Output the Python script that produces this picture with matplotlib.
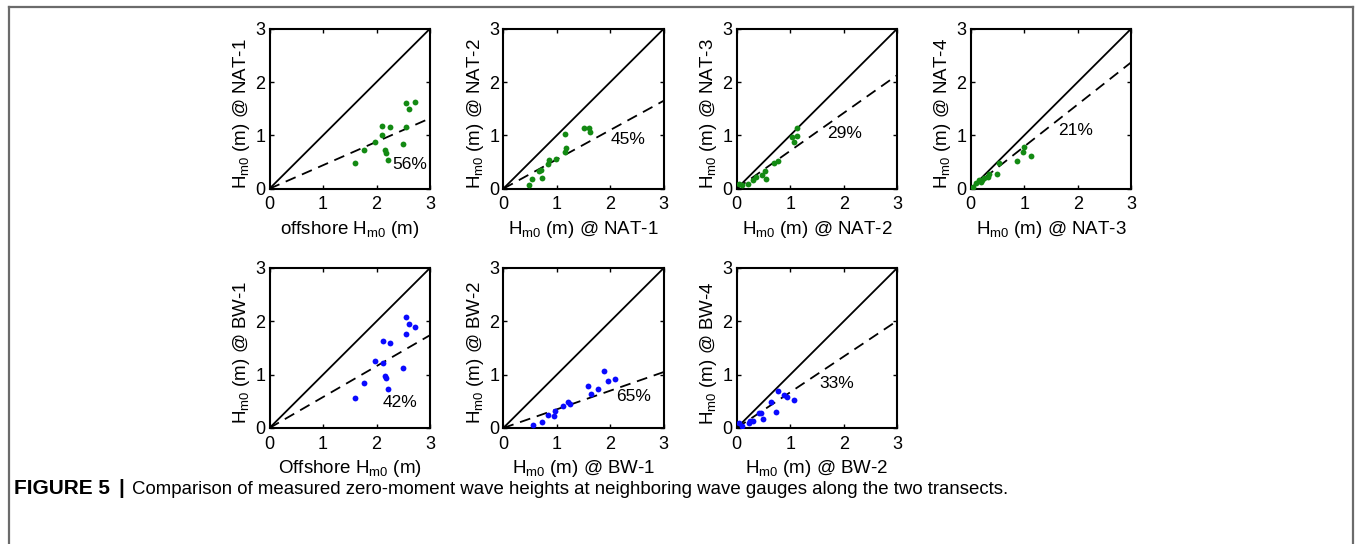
import matplotlib
matplotlib.use("Agg")
import matplotlib.pyplot as plt
from matplotlib.lines import Line2D
import numpy as np

plt.rcParams['font.family'] = ['Liberation Sans', 'DejaVu Sans']
plt.rcParams['mathtext.fontset'] = 'custom'
plt.rcParams['mathtext.rm'] = 'Liberation Sans'

# ---- measured wave heights (m) ----
nat1_x = [1.59, 1.77, 1.97, 2.11, 2.11, 2.26, 2.15, 2.17, 2.21, 2.50, 2.55, 2.61, 2.72, 2.55]
nat1_y = [0.49, 0.72, 0.87, 1.18, 1.01, 1.16, 0.72, 0.67, 0.54, 0.84, 1.61, 1.50, 1.62, 1.15]

nat2_x = [0.48, 0.54, 0.67, 0.71, 0.73, 0.84, 0.86, 0.98, 1.16, 1.16, 1.18, 1.50, 1.60, 1.62]
nat2_y = [0.07, 0.18, 0.33, 0.35, 0.21, 0.47, 0.53, 0.55, 1.03, 0.68, 0.76, 1.14, 1.13, 1.06]

nat3_x = [0.05, 0.10, 0.21, 0.31, 0.36, 0.47, 0.53, 0.55, 0.69, 0.78, 1.03, 1.12, 1.13, 1.08]
nat3_y = [0.09, 0.07, 0.09, 0.16, 0.22, 0.26, 0.34, 0.19, 0.49, 0.52, 0.97, 0.98, 1.14, 0.87]

nat4_x = [0.05, 0.10, 0.16, 0.21, 0.24, 0.32, 0.35, 0.49, 0.53, 0.86, 0.975, 1.00, 1.12, 0.19]
nat4_y = [0.04, 0.11, 0.16, 0.17, 0.20, 0.22, 0.275, 0.275, 0.475, 0.525, 0.69, 0.79, 0.61, 0.13]

bw1_x = [1.59, 1.77, 1.97, 2.12, 2.12, 2.26, 2.15, 2.18, 2.21, 2.49, 2.55, 2.61, 2.72, 2.55]
bw1_y = [0.56, 0.85, 1.26, 1.64, 1.21, 1.59, 0.975, 0.94, 0.73, 1.12, 2.09, 1.95, 1.89, 1.77]

bw2_x = [0.56, 0.73, 0.84, 0.94, 0.97, 1.11, 1.20, 1.24, 1.59, 1.64, 1.77, 1.875, 1.96, 2.08]
bw2_y = [0.05, 0.11, 0.24, 0.225, 0.31, 0.41, 0.49, 0.45, 0.78, 0.64, 0.73, 1.075, 0.89, 0.925]

bw4_x = [0.05, 0.09, 0.23, 0.31, 0.425, 0.49, 0.46, 0.64, 0.74, 0.78, 0.89, 0.94, 1.08, 0.25]
bw4_y = [0.10, 0.04, 0.10, 0.125, 0.275, 0.175, 0.29, 0.48, 0.30, 0.70, 0.62, 0.575, 0.525, 0.13]

# percentage reduction between neighbouring gauges
reductions = [56, 45, 29, 21, 42, 65, 33]

xlabels = ["offshore H$_\\mathregular{m0}$ (m)", "H$_\\mathregular{m0}$ (m) @ NAT-1",
           "H$_\\mathregular{m0}$ (m) @ NAT-2", "H$_\\mathregular{m0}$ (m) @ NAT-3",
           "Offshore H$_\\mathregular{m0}$ (m)", "H$_\\mathregular{m0}$ (m) @ BW-1",
           "H$_\\mathregular{m0}$ (m) @ BW-2"]
ylabels = ["H$_\\mathregular{m0}$ (m) @ NAT-1", "H$_\\mathregular{m0}$ (m) @ NAT-2",
           "H$_\\mathregular{m0}$ (m) @ NAT-3", "H$_\\mathregular{m0}$ (m) @ NAT-4",
           "H$_\\mathregular{m0}$ (m) @ BW-1", "H$_\\mathregular{m0}$ (m) @ BW-2",
           "H$_\\mathregular{m0}$ (m) @ BW-4"]
label_pos = [(2.30, 0.45), (2.00, 0.92), (1.69, 1.04), (1.63, 1.09),
             (2.11, 0.48), (2.10, 0.59), (1.54, 0.84)]
series = [(nat1_x, nat1_y), (nat2_x, nat2_y), (nat3_x, nat3_y), (nat4_x, nat4_y),
          (bw1_x, bw1_y), (bw2_x, bw2_y), (bw4_x, bw4_y)]
colors = ['#138a13'] * 4 + ['#0a0aff'] * 3

W, H = 1356, 544
fig = plt.figure(figsize=(W / 100, H / 100), dpi=100)

col_left = [269.5, 503.3, 736.7, 970.7]
row_top = [28.7, 268.0]
aw, ah = 160.5, 160.0

for i, ((xs, ys), red, col) in enumerate(zip(series, reductions, colors)):
    r, c = (0, i) if i < 4 else (1, i - 4)
    left = col_left[c] / W
    bottom = 1 - (row_top[r] + ah) / H
    ax = fig.add_axes([left, bottom, aw / W, ah / H])
    ax.set_xlim(0, 3)
    ax.set_ylim(0, 3)
    grid = np.array([0, 3])
    ax.plot(grid, grid, color='black', lw=1.3, zorder=2)
    ax.plot(grid, grid * (1 - red / 100), color='black', lw=1.3,
            ls=(0, (6, 3.8)), zorder=2)
    ax.plot(xs, ys, 'o', ms=4.2, color=col, mec='none', zorder=3)
    tx, ty = label_pos[i]
    ax.text(tx, ty, f"{red}%", fontsize=12.5, ha='left', va='center')
    ax.set_xticks([0, 1, 2, 3])
    ax.set_yticks([0, 1, 2, 3])
    ax.tick_params(direction='in', length=3, width=1, top=True, right=True,
                   labelsize=13)
    ax.tick_params(axis='x', pad=5.5)
    ax.tick_params(axis='y', pad=3)
    for s in ax.spines.values():
        s.set_linewidth(1.5)
    ax.set_xlabel(xlabels[i], fontsize=13.5, labelpad=4)
    ax.set_ylabel(ylabels[i], fontsize=13.5)
    ax.yaxis.set_label_coords(-0.108, 0.47)

# outer frame of the figure panel
fx0, fx1, fy0 = 8.5 / W, 1352.5 / W, 1 - 6.5 / H
for xs_, ys_ in [([fx0, fx1], [fy0, fy0]), ([fx0, fx0], [fy0, 0]), ([fx1, fx1], [fy0, 0])]:
    fig.add_artist(Line2D(xs_, ys_, color='#6b6b6b', lw=1.6, transform=fig.transFigure))

# caption
cap_y = 1 - 489 / H
fig.text(14 / W, cap_y, "FIGURE 5", fontsize=15, fontweight='bold',
         va='center', ha='left')
fig.text(118 / W, cap_y, "|", fontsize=15, fontweight='bold',
         va='center', ha='left')
fig.text(132 / W, cap_y,
         "Comparison of measured zero-moment wave heights at neighboring wave gauges along the two transects.",
         fontsize=13.4, va='center', ha='left')

fig.savefig("out.png", dpi=100)
